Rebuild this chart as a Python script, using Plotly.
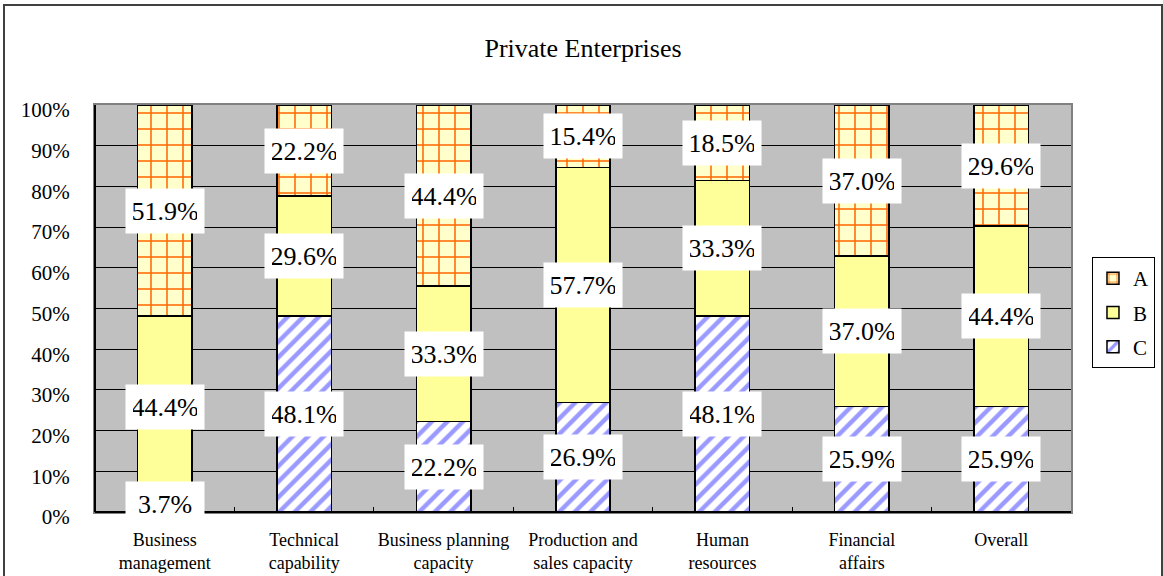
import plotly.graph_objects as go

# Category names (line-broken as shown under the axis)
categories = [
    "Business<br>management",
    "Technical<br>capability",
    "Business planning<br>capacity",
    "Production and<br>sales capacity",
    "Human<br>resources",
    "Financial<br>affairs",
    "Overall",
]

# Share of responses (%) per category
values_c = [3.7, 48.1, 22.2, 26.9, 48.1, 25.9, 25.9]
values_b = [44.4, 29.6, 33.3, 57.7, 33.3, 37.0, 44.4]
values_a = [51.9, 22.2, 44.4, 15.4, 18.5, 37.0, 29.6]

y_ticks = [0, 10, 20, 30, 40, 50, 60, 70, 80, 90, 100]
y_tick_labels = [f"{t}%" for t in y_ticks]

FONT = "Liberation Serif, Times New Roman, serif"

# (name, values, fill pattern, legend rank)
series = [
    ("C", values_c, dict(shape="/", fgcolor="#9999FF", bgcolor="#FFFFFF", size=11,
                         solidity=0.4, fgopacity=1), 3),
    ("B", values_b, dict(shape="", bgcolor="#FFFF99"), 2),
    ("A", values_a, dict(shape="+", fgcolor="#FF6600", bgcolor="#FFFFCC", size=16,
                         solidity=0.18, fgopacity=1), 1),
]

fig = go.Figure()
for name, vals, pattern, rank in series:
    fig.add_trace(go.Bar(
        x=categories,
        y=vals,
        name=name,
        legendgroup=name,
        legendrank=rank,
        width=0.39,
        marker=dict(
            color=pattern["bgcolor"],
            line=dict(color="#000000", width=1.5),
            pattern=pattern,
        ),
        hoverinfo="skip",
    ))

# White value boxes centred on each stacked segment
annotations = []
for i, cat in enumerate(categories):
    base = 0.0
    for name, vals, _, _ in series:
        v = vals[i]
        annotations.append(dict(
            x=cat, y=base + v / 2, xref="x", yref="y",
            xanchor="center", yanchor="middle",
            text=f"{v:.1f}%",
            showarrow=False,
            font=dict(family=FONT, size=26, color="#000000"),
            bgcolor="#FFFFFF",
            width=64, height=30, borderpad=7,
            valign="bottom",
        ))
        base += v

fig.update_layout(
    width=1163, height=576,
    margin=dict(l=95, r=92, t=105, b=64, autoexpand=False),
    paper_bgcolor="#FFFFFF",
    plot_bgcolor="#C0C0C0",
    barmode="stack",
    title=dict(
        text="Private Enterprises",
        x=0.5, xref="paper", xanchor="center",
        y=1 - 48 / 576, yref="container", yanchor="middle",
        font=dict(family=FONT, size=26, color="#000000"),
    ),
    font=dict(family=FONT, color="#000000"),
    showlegend=True,
    legend=dict(
        x=1.0215, y=0.6265, xanchor="left", yanchor="top",
        traceorder="grouped",
        tracegroupgap=4,
        bgcolor="#FFFFFF",
        bordercolor="#000000", borderwidth=1,
        font=dict(family=FONT, size=21, color="#000000"),
        itemwidth=30,
    ),
    annotations=annotations,
)

fig.update_yaxes(
    range=[0, 100],
    tickvals=y_ticks, ticktext=y_tick_labels,
    showgrid=True, gridcolor="#000000", gridwidth=1,
    showline=True, linecolor="#808080", linewidth=2, mirror=True,
    ticks="outside", ticklen=0,
    ticklabelstandoff=19,
    ticklabelshift=5,
    tickfont=dict(family=FONT, size=21, color="#000000"),
    zeroline=False,
    automargin=False,
    fixedrange=True,
)
fig.update_xaxes(
    showgrid=False,
    showline=True, linecolor="#808080", linewidth=2, mirror=True,
    ticks="inside", ticklen=5, tickcolor="#000000",
    tickson="boundaries",
    tickangle=0,
    ticklabelstandoff=10,
    tickfont=dict(family=FONT, size=18, color="#000000"),
    automargin=False,
    fixedrange=True,
)

# Black axis lines on the left and bottom of the plotting area
fig.add_shape(type="line", xref="paper", yref="paper",
              x0=0, x1=1, y0=0, y1=0, layer="above",
              line=dict(color="#000000", width=2))
fig.add_shape(type="line", xref="paper", yref="paper",
              x0=0, x1=0, y0=0, y1=1, layer="above",
              line=dict(color="#000000", width=2))

# Outer chart frame
fig.add_shape(type="rect", xref="paper", yref="paper",
              x0=(4 - 95) / 976, x1=(1162 - 95) / 976,
              y0=-0.3, y1=(512 - 5) / 407,
              layer="above", line=dict(color="#404040", width=2),
              fillcolor="rgba(0,0,0,0)")

fig.write_html("out.html")
